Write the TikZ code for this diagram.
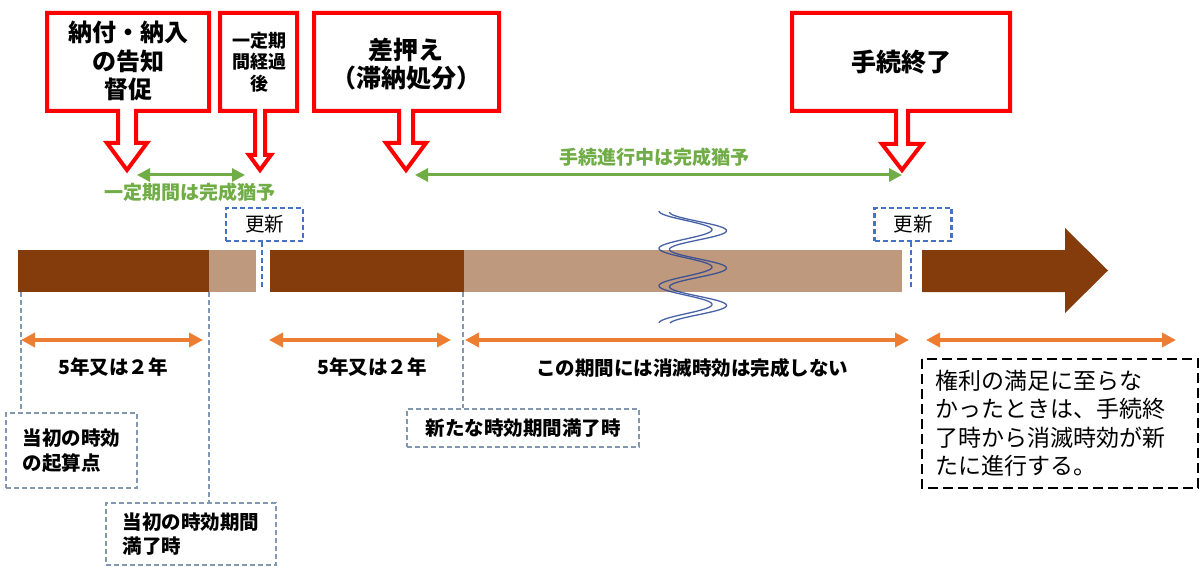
\documentclass[tikz,border=0pt]{standalone}
\usepackage{fontspec}
\setmainfont{Noto Sans CJK JP}
\usetikzlibrary{arrows.meta}
\definecolor{cred}{RGB}{255,0,0}
\definecolor{cgreen}{RGB}{112,173,71}
\definecolor{corange}{RGB}{237,125,49}
\definecolor{cblue}{RGB}{68,114,196}
\definecolor{cgray}{RGB}{132,151,176}
\definecolor{cdark}{RGB}{132,60,12}
\definecolor{clight}{RGB}{191,153,126}
\definecolor{cwave}{RGB}{40,70,150}
\begin{document}
\begin{tikzpicture}[x=1pt,y=-1pt,
  callout/.style={draw=cred,line width=4pt,fill=white,line join=miter,miter limit=10},
  garrow/.style={draw=cgreen,line width=3pt,{Triangle[length=13pt,width=13pt]}-{Triangle[length=13pt,width=13pt]}},
  oarrow/.style={draw=corange,line width=3.5pt,{Triangle[length=14pt,width=14pt]}-{Triangle[length=14pt,width=14pt]}},
  glabel/.style={text=cgreen,font=\bfseries\fontsize{19}{22}\selectfont},
  olabel/.style={font=\bfseries\fontsize{19.5}{23}\selectfont},
  renewbox/.style={draw=cblue,line width=2.5pt,dash pattern=on 5pt off 3pt,minimum width=77pt,minimum height=33pt,inner sep=0pt,font=\fontsize{19.5}{22}\selectfont},
  renewline/.style={draw=cblue,line width=2.5pt,dash pattern=on 5pt off 3pt},
  graybox/.style={draw=cgray,line width=2pt,dash pattern=on 5pt off 3pt,inner sep=0pt,align=left,font=\bfseries\fontsize{19.5}{24.5}\selectfont},
  grayline/.style={draw=cgray,line width=2pt,dash pattern=on 5pt off 3pt},
  wave/.style={draw=cwave,line width=1.3pt,opacity=0.85}
]
\useasboundingbox (0,0) rectangle (1200,567);

% callouts
\draw[callout] (47,13) -- (209,13) -- (209,111) -- (136,111) -- (136,143) -- (147,143) -- (127,170) -- (107,143) -- (118,143) -- (118,111) -- (47,111) -- cycle;
\draw[callout] (220,13) -- (297,13) -- (297,111) -- (265,111) -- (265,155) -- (271,155) -- (260,170) -- (249,155) -- (255,155) -- (255,111) -- (220,111) -- cycle;
\draw[callout] (314,13) -- (499,13) -- (499,111) -- (413,111) -- (413,143) -- (426,143) -- (406,170) -- (386,143) -- (399,143) -- (399,111) -- (314,111) -- cycle;
\draw[callout] (792,13) -- (1010,13) -- (1010,111) -- (908,111) -- (908,144) -- (922,144) -- (902,170) -- (882,144) -- (896,144) -- (896,111) -- (792,111) -- cycle;

\node[align=center,font=\bfseries\fontsize{24}{28.5}\selectfont] (c1) at (128,61) {納付・納入\\の告知\\督促};
\node[align=center,font=\bfseries\fontsize{18}{21.5}\selectfont] (c2) at (259,62) {一定期\\間経過\\後};
\node[align=center,font=\bfseries\fontsize{25}{28}\selectfont] (c3) at (406,64) {差押え\\（滞納処分）};
\node[align=center,font=\bfseries\fontsize{25}{28}\selectfont] (c4) at (901,62) {手続終了};

% green arrows
\coordinate (g1a) at (137,175);
\coordinate (g1b) at (245,175);
\coordinate (g2a) at (415,175);
\coordinate (g2b) at (902,175);
\draw[garrow] (g1a) -- (g1b);
\draw[garrow] (g2a) -- (g2b);
\node[glabel] (gl1) at (190,192) {一定期間は完成猶予};
\node[glabel] (gl2) at (654,157) {手続進行中は完成猶予};

% bar
\fill[cdark] (18,250) rectangle (209,292);
\fill[clight] (209,250) rectangle (256,292);
\fill[cdark] (270,250) rectangle (464,292);
\fill[clight] (464,250) rectangle (902,292);
\fill[cdark] (922,250) -- (1065,250) -- (1065,228) -- (1108,270.5) -- (1065,313) -- (1065,292) -- (922,292) -- cycle;

% wave
\draw[wave] plot[domain=211:323,samples=150,smooth] ({685.5-26.5*cos((\x-211)*9.63)},\x);
\draw[wave] plot[domain=212:323,samples=150,smooth] ({698-28.5*cos((\x-212)*9.63)},\x);

% renewal boxes
\node[renewbox] (r1) at (264.5,224.5) {更新};
\coordinate (r1e) at (262,290);
\draw[renewline] (r1.south -| r1e) -- (r1e);
\node[renewbox] (r2) at (913,224.5) {更新};
\coordinate (r2e) at (911,290);
\draw[renewline] (r2.south -| r2e) -- (r2e);

% orange arrows
\coordinate (o1a) at (21,340);  \coordinate (o1b) at (203,340);
\coordinate (o2a) at (269,340); \coordinate (o2b) at (451,340);
\coordinate (o3a) at (465,340); \coordinate (o3b) at (909,340);
\coordinate (o4a) at (926,340); \coordinate (o4b) at (1176,340);
\draw[oarrow] (o1a) -- (o1b);
\draw[oarrow] (o2a) -- (o2b);
\draw[oarrow] (o3a) -- (o3b);
\draw[oarrow] (o4a) -- (o4b);
\node[olabel] (ol1) at (113,367) {5年又は２年};
\node[olabel] (ol2) at (372,367) {5年又は２年};
\node[olabel] (ol3) at (692,368) {この期間には消滅時効は完成しない};

% gray boxes and lines
\node[graybox,minimum width=131pt,minimum height=75pt] (b1) at (71.5,450.5) {当初の時効\\の起算点};
\node[graybox,minimum width=170pt,minimum height=62pt] (b2) at (191,534) {当初の時効期間\\満了時};
\node[graybox,minimum width=232pt,minimum height=38pt] (b3) at (523,428) {新たな時効期間満了時};
\coordinate (l1) at (21,292);
\coordinate (l2) at (209,292);
\coordinate (l3) at (463,292);
\draw[grayline] (l1) -- (l1 |- b1.north);
\draw[grayline] (l2) -- (l2 |- b2.north);
\draw[grayline] (l3) -- (l3 |- b3.north);

% note box
\draw[line width=1.8pt,dash pattern=on 10pt off 5pt] (922,359) rectangle (1198,488);
\node[anchor=west,align=left,inner sep=0pt,font=\fontsize{23}{28.5}\selectfont] (note) at (935,423) {権利の満足に至らな\\かったときは、手続終\\了時から消滅時効が新\\たに進行する。};
\end{tikzpicture}
\end{document}
